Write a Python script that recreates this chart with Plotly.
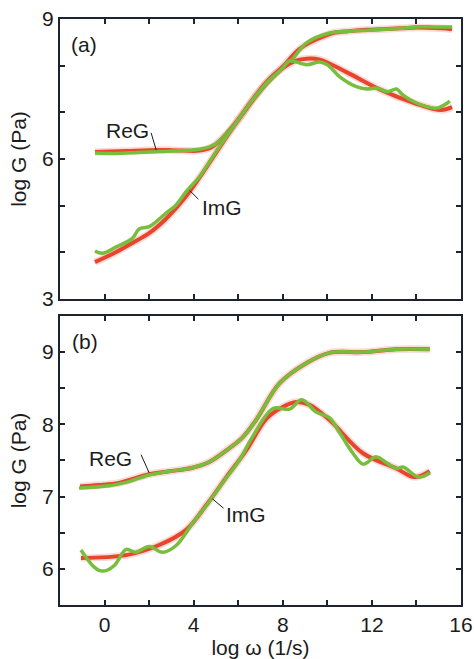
import plotly.graph_objects as go

# ---------------- data ----------------
# Panel (a)
a_reg_fit_x = [-0.43, 1.0, 2.0, 3.0, 4.26, 4.8, 5.5, 6.06, 6.65, 7.27, 8.0, 8.76, 9.5, 10.26, 11.0, 11.8, 13.3, 14.0, 15.1, 15.6]
a_reg_fit_y = [6.15, 6.17, 6.19, 6.19, 6.18, 6.25, 6.55, 6.88, 7.27, 7.64, 7.98, 8.36, 8.56, 8.70, 8.74, 8.77, 8.80, 8.82, 8.80, 8.78]

a_reg_dat_x = [-0.43, 0.5, 1.5, 2.5, 3.5, 4.26, 4.7, 5.1, 5.47, 6.06, 6.65, 7.27, 8.0, 8.4, 9.07, 10.1, 11.0, 11.8, 12.5, 13.3, 14.0, 14.8, 15.6]
a_reg_dat_y = [6.13, 6.12, 6.14, 6.16, 6.18, 6.21, 6.26, 6.36, 6.56, 6.88, 7.25, 7.60, 7.95, 8.12, 8.49, 8.70, 8.74, 8.76, 8.78, 8.80, 8.83, 8.83, 8.83]

a_img_fit_x = [-0.43, 0.5, 1.25, 2.0, 2.76, 3.66, 4.26, 4.86, 5.47, 6.06, 6.65, 7.27, 8.0, 8.6, 9.07, 9.66, 10.9, 12.4, 13.9, 15.1, 15.6]
a_img_fit_y = [3.79, 4.0, 4.2, 4.41, 4.72, 5.2, 5.6, 6.03, 6.47, 6.88, 7.27, 7.64, 7.95, 8.11, 8.15, 8.13, 7.85, 7.48, 7.20, 7.05, 7.11]

a_img_dat_x = [-0.43, -0.1, 0.5, 1.25, 1.55, 2.0, 2.76, 3.2, 3.66, 4.26, 4.86, 5.47, 6.06, 6.65, 7.27, 8.0, 8.3, 9.07, 9.66, 10.0, 10.56, 11.3, 11.8, 12.2, 12.7, 13.1, 13.4, 14.0, 14.9, 15.5]
a_img_dat_y = [4.03, 3.98, 4.11, 4.30, 4.50, 4.55, 4.84, 5.01, 5.30, 5.62, 6.05, 6.48, 6.88, 7.27, 7.63, 7.95, 8.10, 8.02, 8.08, 8.02, 7.76, 7.55, 7.50, 7.52, 7.44, 7.50, 7.37, 7.20, 7.09, 7.24]

# Panel (b)
b_reg_fit_x = [-1.1, -0.25, 0.65, 2.0, 2.9, 3.95, 4.7, 5.47, 6.2, 6.8, 7.86, 9.07, 10.1, 11.6, 13.1, 14.6]
b_reg_fit_y = [7.14, 7.16, 7.19, 7.31, 7.35, 7.40, 7.48, 7.64, 7.82, 8.06, 8.57, 8.85, 8.99, 9.00, 9.04, 9.04]

b_reg_dat_x = [-1.15, 0.2, 1.0, 2.0, 2.9, 3.95, 4.7, 5.47, 6.2, 6.8, 7.86, 9.07, 10.1, 11.6, 13.1, 14.6]
b_reg_dat_y = [7.12, 7.15, 7.20, 7.30, 7.35, 7.40, 7.48, 7.64, 7.82, 8.06, 8.57, 8.85, 8.99, 9.00, 9.04, 9.04]

b_img_fit_x = [-1.06, 0.97, 2.45, 3.66, 4.56, 5.47, 6.36, 7.27, 8.0, 8.6, 9.2, 10.1, 11.6, 13.1, 13.9, 14.6]
b_img_fit_y = [6.15, 6.19, 6.33, 6.54, 6.88, 7.27, 7.64, 8.08, 8.24, 8.31, 8.27, 8.06, 7.60, 7.39, 7.27, 7.35]

b_img_dat_x = [-1.06, -0.55, -0.25, 0.1, 0.45, 0.97, 1.4, 2.0, 2.6, 3.2, 3.95, 4.7, 5.3, 6.06, 6.65, 7.56, 8.3, 8.85, 9.5, 10.1, 10.56, 11.15, 11.6, 12.2, 12.7, 13.1, 13.4, 14.1, 14.6]
b_img_dat_y = [6.26, 6.05, 5.98, 5.98, 6.05, 6.27, 6.23, 6.31, 6.23, 6.32, 6.63, 6.93, 7.19, 7.51, 7.83, 8.22, 8.21, 8.34, 8.17, 8.09, 7.88, 7.60, 7.45, 7.55, 7.46, 7.39, 7.41, 7.27, 7.33]

x_tick_vals = [0, 2, 4, 6, 8, 10, 12, 14, 16]
x_tick_text = ["0", "", "4", "", "8", "", "12", "", "16"]
a_y_tick_vals = [3, 4, 5, 6, 7, 8, 9]
a_y_tick_text = ["3", "", "", "6", "", "", "9"]
b_y_tick_vals = [5.5, 6, 6.5, 7, 7.5, 8, 8.5, 9, 9.5]
b_y_tick_text = ["", "6", "", "7", "", "8", "", "9", ""]

# ---------------- styling ----------------
RED = "#e8442e"
RED_GLOW = "rgba(235,90,70,0.22)"
GREEN = "#76be3c"
FONT = "Liberation Sans, Arial, sans-serif"
FS = 21
INK = "#1c1c1c"
AXC = "#1d2430"

fig = go.Figure()

def add_pair(fx, fy, dx, dy, xa, ya):
    fig.add_trace(go.Scatter(x=fx, y=fy, mode="lines", line=dict(color=RED_GLOW, width=7.5, shape="spline"),
                             xaxis=xa, yaxis=ya, showlegend=False, hoverinfo="skip"))
    fig.add_trace(go.Scatter(x=fx, y=fy, mode="lines", line=dict(color=RED, width=4, shape="spline"),
                             xaxis=xa, yaxis=ya, showlegend=False))
    fig.add_trace(go.Scatter(x=dx, y=dy, mode="lines", line=dict(color=GREEN, width=3.5, shape="spline", smoothing=1.0),
                             xaxis=xa, yaxis=ya, showlegend=False))

add_pair(a_reg_fit_x, a_reg_fit_y, a_reg_dat_x, a_reg_dat_y, "x", "y")
add_pair(a_img_fit_x, a_img_fit_y, a_img_dat_x, a_img_dat_y, "x", "y")
add_pair(b_reg_fit_x, b_reg_fit_y, b_reg_dat_x, b_reg_dat_y, "x2", "y2")
add_pair(b_img_fit_x, b_img_fit_y, b_img_dat_x, b_img_dat_y, "x2", "y2")

axis_common = dict(showline=True, linewidth=2, linecolor=AXC, mirror="ticks", ticks="inside",
                   ticklen=5, tickwidth=1.5, tickcolor=AXC, showgrid=False, zeroline=False,
                   automargin=False, ticklabeloverflow="allow",
                   tickfont=dict(family=FONT, size=FS, color=INK))
title_font = dict(family=FONT, size=FS, color=INK)

fig.update_layout(
    width=474, height=659,
    margin=dict(l=60, r=13, t=19, b=54),
    paper_bgcolor="white", plot_bgcolor="white",
    font=dict(family=FONT, size=FS, color=INK),
    xaxis=dict(domain=[0, 1], range=[-2, 16], tickvals=x_tick_vals, showticklabels=False, anchor="y", **axis_common),
    yaxis=dict(domain=[0.5222, 1.0], range=[3, 9], tickvals=a_y_tick_vals, ticktext=a_y_tick_text, anchor="x",
               title=dict(text="log G (Pa)", font=title_font, standoff=10), **axis_common),
    xaxis2=dict(domain=[0, 1], range=[-2, 16], tickvals=x_tick_vals, ticktext=x_tick_text, anchor="y2",
                title=dict(text="log ω (1/s)", font=title_font, standoff=5), **axis_common),
    yaxis2=dict(domain=[0, 0.4932], range=[5.5, 9.5], tickvals=b_y_tick_vals, ticktext=b_y_tick_text, anchor="x2",
                title=dict(text="log G (Pa)", font=title_font, standoff=10), **axis_common),
)

def label(text, x, y, xr, yr):
    fig.add_annotation(text=text, x=x, y=y, xref=xr, yref=yr, showarrow=False,
                       font=dict(family=FONT, size=FS, color=INK))

label("(a)", -0.92, 8.45, "x", "y")
label("ReG", 1.04, 6.62, "x", "y")
label("ImG", 5.29, 4.97, "x", "y")
label("(b)", -0.88, 9.14, "x2", "y2")
label("ReG", 0.27, 7.53, "x2", "y2")
label("ImG", 6.37, 6.75, "x2", "y2")

# leader lines
leaders = [
    ("x", "y", 2.09, 6.56, 2.32, 6.19),
    ("x", "y", 4.21, 5.14, 3.81, 5.33),
    ("x2", "y2", 1.64, 7.58, 2.0, 7.33),
    ("x2", "y2", 5.34, 6.84, 4.84, 6.97),
]
for xr, yr, x0, y0, x1, y1 in leaders:
    fig.add_shape(type="line", xref=xr, yref=yr, x0=x0, y0=y0, x1=x1, y1=y1,
                  line=dict(color=INK, width=1))

# remove the browser's default 8px page margin so the figure fills the window exactly
fig.write_html("out.html", config={"displayModeBar": False},
               post_script="document.body.style.margin='0';document.body.style.overflow='hidden';")
